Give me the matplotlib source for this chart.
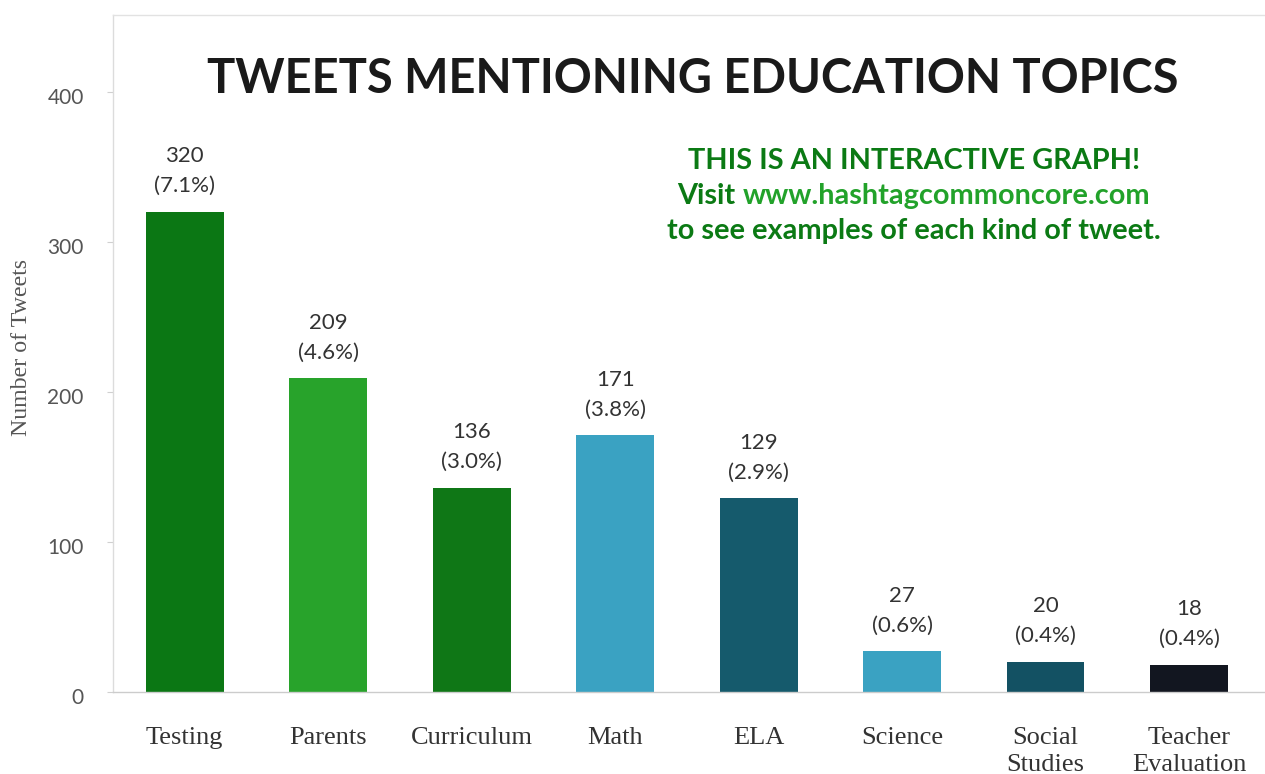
import matplotlib
matplotlib.use("Agg")
import matplotlib.pyplot as plt
import matplotlib.transforms as mtransforms

categories = ["Testing", "Parents", "Curriculum", "Math", "ELA", "Science",
              "Social\nStudies", "Teacher\nEvaluation"]
counts = [320, 209, 136, 171, 129, 27, 20, 18]
percents = ["7.1%", "4.6%", "3.0%", "3.8%", "2.9%", "0.6%", "0.4%", "0.4%"]
colors = ["#0b7714", "#28a32b", "#0f7716", "#3aa2c2", "#155a6c", "#3aa2c2",
          "#135163", "#121620"]
yticks = [0, 100, 200, 300, 400]

W, H = 1265, 774
fig = plt.figure(figsize=(W / 100, H / 100), dpi=100)
fig.patch.set_facecolor("white")
ax = fig.add_axes([113 / W, 1 - 692 / H, 1 - 113 / W, (692 - 15) / H])

x = list(range(len(categories)))
ax.bar(x, counts, width=0.543, color=colors, zorder=2)
ax.set_xlim(-0.5, 7.53)
ax.set_ylim(0, 451.3)

for xi, c, p in zip(x, counts, percents):
    ax.annotate(f"{c}\n({p})", (xi, c), xytext=(0, 11.5), textcoords="offset points",
                ha="center", va="bottom", fontsize=16, family="Lato",
                color="#333333", linespacing=1.62)

ax.set_xticks(x)
ax.set_xticklabels(categories, family="Liberation Serif", fontsize=19,
                   color="#333333", linespacing=1.25)
ax.tick_params(axis="x", length=0, pad=25.5)
ax.set_yticks(yticks)
ax.set_yticklabels([str(v) for v in yticks], family="Lato", fontsize=15, color="#555555")
ax.tick_params(axis="y", length=4, color="#d0d0d0", pad=17)
shift = mtransforms.ScaledTranslation(0, -4 / 100, fig.dpi_scale_trans)
for lab in ax.get_yticklabels():
    lab.set_transform(lab.get_transform() + shift)

ax.spines["right"].set_visible(False)
ax.spines["left"].set_color("#dcdcdc")
ax.spines["top"].set_color("#e2e2e2")
ax.spines["bottom"].set_color("#cccccc")
for s in ["left", "top", "bottom"]:
    ax.spines[s].set_linewidth(1.0)

fig.text(22 / W, 1 - 347 / H, "Number of Tweets", rotation=90, ha="center", va="center",
         family="Liberation Serif", fontsize=17.2, color="#555555")

fig.text(692.5 / W, 1 - 93 / H, "TWEETS MENTIONING EDUCATION TOPICS", ha="center",
         va="baseline", family="Lato", fontweight="bold", fontsize=33.8, color="#1a1a1a")

dark = "#0b7a14"
light = "#22a22a"
fs = 20.8
fig.text(914 / W, 1 - 169 / H, "THIS IS AN INTERACTIVE GRAPH!", ha="center", va="baseline",
         family="Lato", fontweight="bold", fontsize=fs, color=dark)
fig.text(914 / W, 1 - 239 / H, "to see examples of each kind of tweet.", ha="center",
         va="baseline", family="Lato", fontweight="bold", fontsize=fs, color=dark)

t1 = fig.text(0, 1 - 204 / H, "Visit ", ha="left", va="baseline", family="Lato",
              fontweight="bold", fontsize=fs, color=dark)
t2 = fig.text(0, 1 - 204 / H, "www.hashtagcommoncore.com", ha="left", va="baseline",
              family="Lato", fontweight="bold", fontsize=fs, color=light)
fig.canvas.draw()
r = fig.canvas.get_renderer()
w2 = t2.get_window_extent(r).width
tv = fig.text(0, 0, "Visit x", family="Lato", fontweight="bold", fontsize=fs)
tx = fig.text(0, 0, "x", family="Lato", fontweight="bold", fontsize=fs)
w1 = tv.get_window_extent(r).width - tx.get_window_extent(r).width
tv.remove()
tx.remove()
start = 914 - (w1 + w2) / 2
t1.set_x(start / W)
t2.set_x((start + w1) / W)

fig.savefig("out.png", dpi=100, facecolor="white")
